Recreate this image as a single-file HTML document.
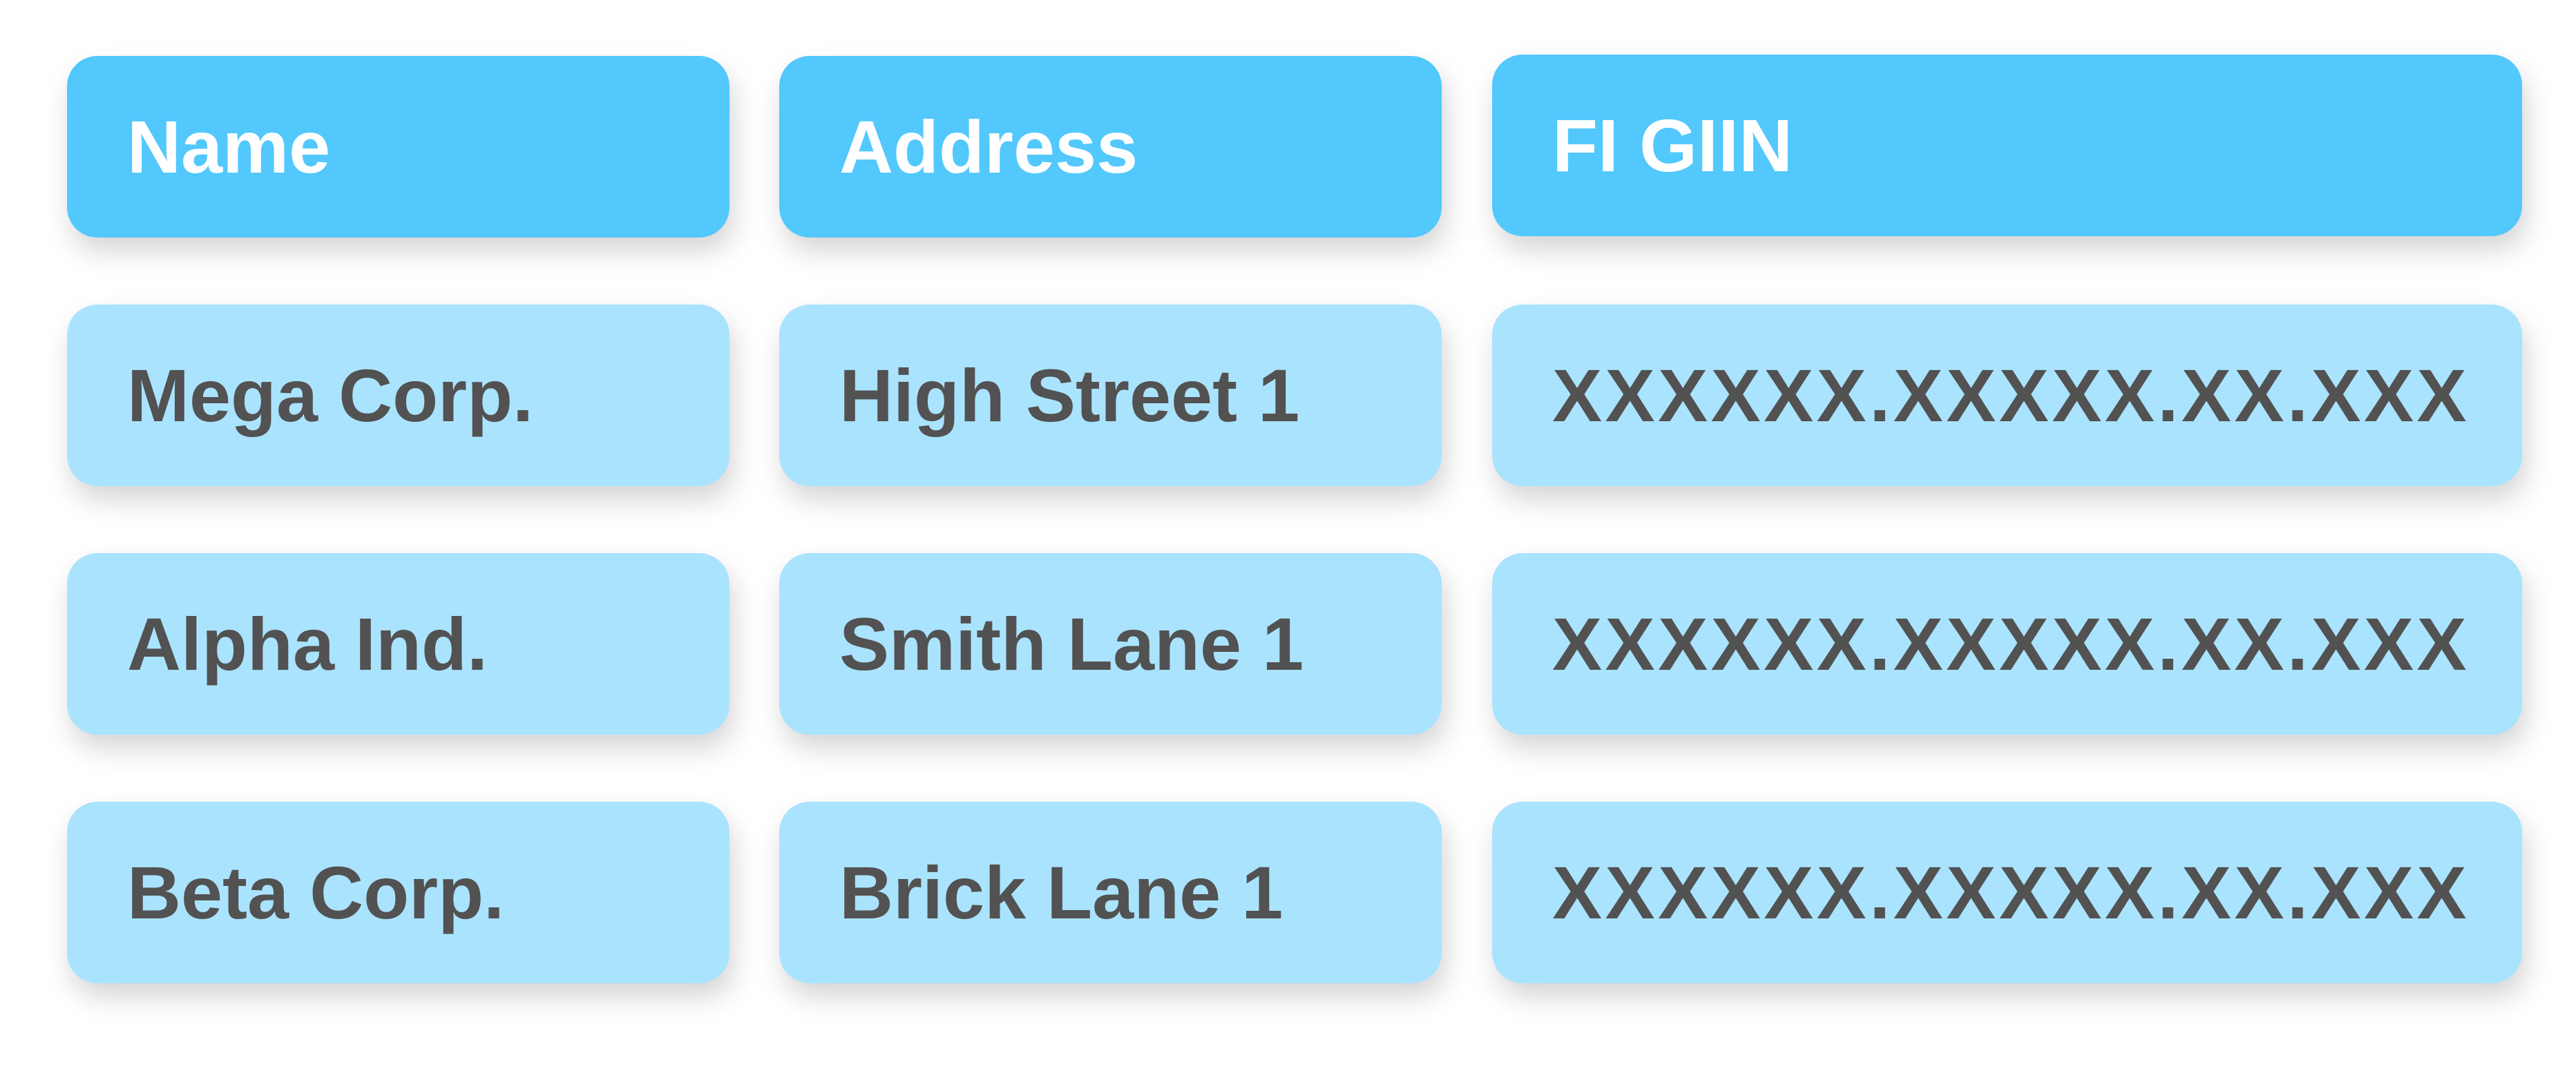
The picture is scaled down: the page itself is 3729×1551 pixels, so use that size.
<!DOCTYPE html>
<html><head><meta charset="utf-8"><style>
html,body{margin:0;padding:0;background:#fff;}
body{width:3729px;height:1551px;position:relative;overflow:hidden;font-family:"Liberation Sans",sans-serif;}
.c{position:absolute;height:263px;border-radius:44px;box-sizing:border-box;padding-left:87px;display:flex;align-items:center;font-weight:bold;font-size:108px;color:#525252;background:#aae3fe;box-shadow:6px 20px 40px rgba(0,0,0,0.17);white-space:nowrap;}
.h{background:#52c8fd;color:#fff;}
.a{left:97px;width:959px}
.b{left:1128px;width:959px}
.d{left:2160px;width:1491px;letter-spacing:4.5px}
</style></head><body>
<div class="c h a" style="top:81px">Name</div>
<div class="c h b" style="top:81px">Address</div>
<div class="c h d" style="top:79px;letter-spacing:0">FI GIIN</div>
<div class="c a" style="top:441px">Mega Corp.</div>
<div class="c b" style="top:441px">High Street 1</div>
<div class="c d" style="top:441px">XXXXXX.XXXXX.XX.XXX</div>
<div class="c a" style="top:801px">Alpha Ind.</div>
<div class="c b" style="top:801px">Smith Lane 1</div>
<div class="c d" style="top:801px">XXXXXX.XXXXX.XX.XXX</div>
<div class="c a" style="top:1161px">Beta Corp.</div>
<div class="c b" style="top:1161px">Brick Lane 1</div>
<div class="c d" style="top:1161px">XXXXXX.XXXXX.XX.XXX</div>
</body></html>
